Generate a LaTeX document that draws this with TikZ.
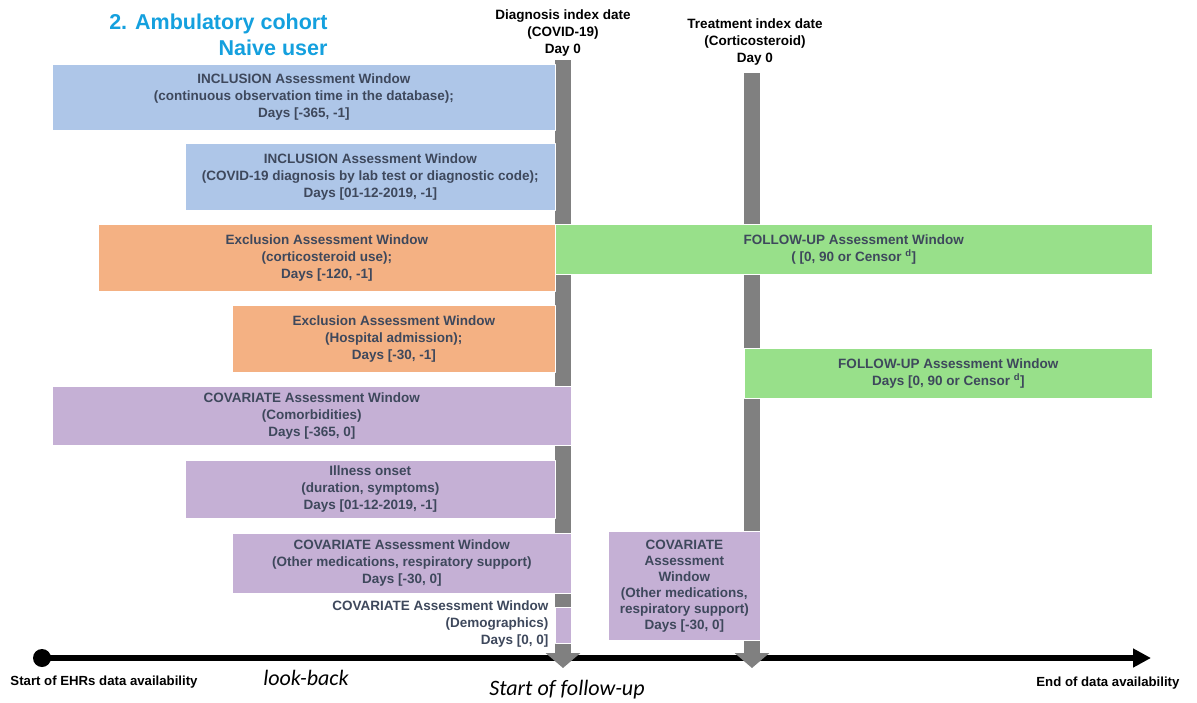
\documentclass[tikz,border=0pt]{standalone}
\usepackage{fontspec}
\setmainfont{Liberation Sans}
\newfontfamily\calfont{Carlito}
\usetikzlibrary{arrows.meta}

\definecolor{inclblue}{RGB}{174,198,232}
\definecolor{exclorange}{RGB}{244,177,131}
\definecolor{fupgreen}{RGB}{152,224,138}
\definecolor{covpurple}{RGB}{197,176,213}
\definecolor{boxtext}{RGB}{62,72,92}
\definecolor{titlecyan}{RGB}{20,160,222}
\definecolor{bargray}{RGB}{128,128,128}

\begin{document}
\begin{tikzpicture}[x=1pt, y=-1pt, line join=round,
  win/.style={anchor=north west, inner sep=0pt, align=center, text=boxtext,
    font=\fontsize{13.5}{17}\selectfont\bfseries, draw=white, line width=0.6pt},
  hdr/.style={align=center, font=\fontsize{13.5}{17}\selectfont\bfseries},
  bar/.style={draw=bargray, line width=16pt, -{Triangle[length=15pt,width=34pt]}},
  axislabel/.style={font=\fontsize{13.2}{15}\selectfont\bfseries},
  phase/.style={font=\calfont\itshape\fontsize{22}{26}\selectfont}]
\useasboundingbox (0,0) rectangle (1197,702);

% title
\node[anchor=east, align=right, text=titlecyan, font=\fontsize{21.5}{26}\selectfont\bfseries] (title) at (331,35) {2. Ambulatory cohort\\Naive user};

% index dates
\node[hdr] (diagLabel) at (563,33) {Diagnosis index date\\(COVID-19)\\Day 0};
\node[hdr] (treatLabel) at (755,42) {Treatment index date\\(Corticosteroid)\\Day 0};

% time axis
\node[circle, fill=black, inner sep=0pt, minimum size=18pt] (ehrStart) at (42,658) {};
\coordinate (dataEnd) at (1151,658);
\draw[line width=5.5pt, -{Triangle[length=18pt,width=18pt]}] (ehrStart.center) -- (dataEnd);

% index bars
\coordinate (diagTop) at (563,60);
\coordinate (diagEnd) at (563,668);
\coordinate (treatTop) at (752,73);
\coordinate (treatEnd) at (752,668);
\draw[bar] (diagTop) -- (diagEnd);
\draw[bar] (treatTop) -- (treatEnd);

% windows
\node[win, fill=inclblue, minimum width=503, minimum height=66] (inclObs) at (52,64)
  {INCLUSION Assessment Window\\(continuous observation time in the database);\\Days [-365, -1]};
\node[win, fill=inclblue, minimum width=370, minimum height=67] (inclCovid) at (185,143)
  {INCLUSION Assessment Window\\(COVID-19 diagnosis by lab test or diagnostic code);\\Days [01-12-2019, -1]};
\node[win, fill=exclorange, minimum width=457, minimum height=67] (exclCort) at (98,224)
  {Exclusion Assessment Window\\(corticosteroid use);\\Days [-120, -1]};
\node[win, fill=fupgreen, minimum width=597, minimum height=50] (fupDiag) at (555,224)
  {FOLLOW-UP Assessment Window\\( [0, 90 or Censor \textsuperscript{d}]};
\node[win, fill=exclorange, minimum width=323, minimum height=67] (exclHosp) at (232,305)
  {Exclusion Assessment Window\\(Hospital admission);\\Days [-30, -1]};
\node[win, fill=fupgreen, minimum width=408, minimum height=50] (fupTreat) at (744,348)
  {FOLLOW-UP Assessment Window\\Days [0, 90 or Censor \textsuperscript{d}]};
\node[win, fill=covpurple, minimum width=519, minimum height=59] (covComorb) at (52,386)
  {COVARIATE Assessment Window\\(Comorbidities)\\Days [-365, 0]};
\node[win, fill=covpurple, minimum width=370, minimum height=58] (illness) at (185,460)
  {Illness onset\\(duration, symptoms)\\Days [01-12-2019, -1]};
\node[win, fill=covpurple, minimum width=339, minimum height=60] (covMeds) at (232,533)
  {COVARIATE Assessment Window\\(Other medications, respiratory support)\\Days [-30, 0]};
\node[win, fill=covpurple, minimum width=16, minimum height=36] (covDemo) at (555,607) {};
\node[anchor=east, align=right, text=boxtext, font=\fontsize{13.5}{17}\selectfont\bfseries] (covDemoText) at (552,624)
  {COVARIATE Assessment Window\\(Demographics)\\Days [0, 0]};
\node[win, fill=covpurple, minimum width=152, minimum height=109, font=\fontsize{13.5}{16}\selectfont\bfseries] (covMedsTreat) at (608,531)
  {COVARIATE\\Assessment\\Window\\(Other medications,\\respiratory support)\\Days [-30, 0]};

% axis labels
\node[axislabel] (startLabel) at (104,682) {Start of EHRs data availability};
\node[axislabel, anchor=east] (endLabel) at (1183,683) {End of data availability};
\node[phase] (lookback) at (306,678) {look-back};
\node[phase] (followup) at (567,690) {Start of follow-up};
\end{tikzpicture}
\end{document}
